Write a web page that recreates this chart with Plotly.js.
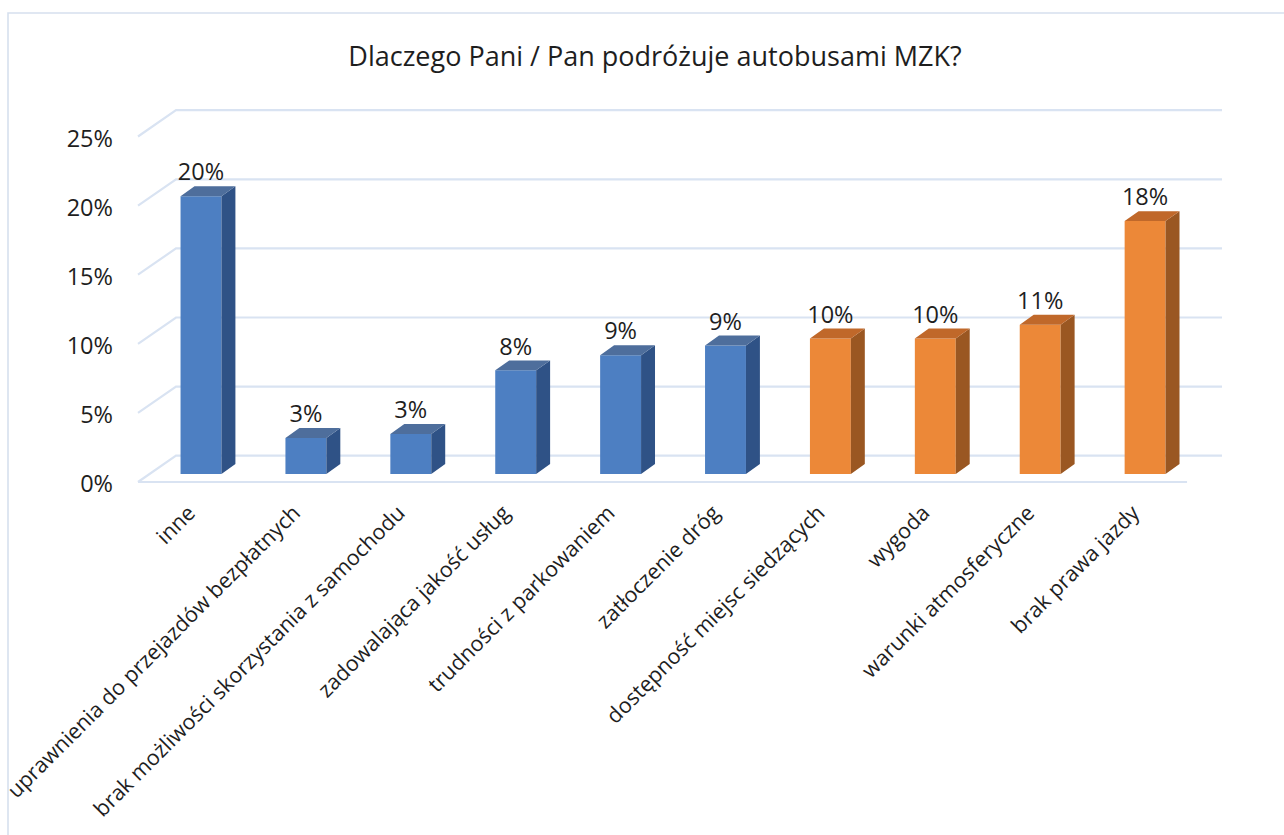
<!DOCTYPE html>
<html>
<head>
<meta charset="utf-8">
<script src="https://cdn.plot.ly/plotly-3.0.1.min.js"></script>
<style>
  html, body { margin: 0; padding: 0; background: #ffffff; }
  #chart { width: 1284px; height: 835px; }
</style>
</head>
<body>
<div id="chart"></div>
<script>
// ---- data ----
const categories = [
  'inne',
  'uprawnienia do przejazdów bezpłatnych',
  'brak możliwości skorzystania z samochodu',
  'zadowalająca jakość usług',
  'trudności z parkowaniem',
  'zatłoczenie dróg',
  'dostępność miejsc siedzących',
  'wygoda',
  'warunki atmosferyczne',
  'brak prawa jazdy'
];
const values = [20.1, 2.6, 2.9, 7.5, 8.6, 9.3, 9.8, 9.8, 10.8, 18.3];
const groups = ['A', 'A', 'A', 'A', 'A', 'A', 'B', 'B', 'B', 'B'];
const yTicks = [0, 5, 10, 15, 20, 25];
const titleText = 'Dlaczego Pani / Pan podróżuje autobusami MZK?';

// ---- style ----
const FONT = 'Open Sans, Noto Sans, sans-serif';
const TXT = '#1e1e1e';
const palette = {
  A: { front: '#4d7fc2', side: '#2f5286', top: '#4e6e9c' },
  B: { front: '#ec8838', side: '#9a5722', top: '#c0682a' }
};
const GRID = '#d9e3f2';
const W = 0.195, DX = 0.133, DY = 0.72;       // half bar width, depth offsets
const BACK_DY = 1.324, FRONT_DY = -0.579;     // wall planes relative to bar plane
const X_FRONT = -0.6006, X_BACK = -0.238, X_END = 9.733, X_FLOOR_END = 9.40;

const idx = categories.map((_, i) => i);

function facePolys(group, kind) {
  const xs = [], ys = [];
  idx.filter(i => groups[i] === group).forEach(i => {
    const v = values[i];
    let pts;
    if (kind === 'side') {
      pts = [[i + W, 0], [i + W + DX, DY], [i + W + DX, v + DY], [i + W, v]];
    } else {
      pts = [[i - W, v], [i - W + DX, v + DY], [i + W + DX, v + DY], [i + W, v]];
    }
    pts.forEach(p => { xs.push(p[0]); ys.push(p[1]); });
    xs.push(pts[0][0]); ys.push(pts[0][1]);
    xs.push(null); ys.push(null);
  });
  return { xs, ys };
}

const traces = [];
['A', 'B'].forEach(g => {
  const sel = idx.filter(i => groups[i] === g);
  traces.push({
    type: 'bar',
    x: sel,
    y: sel.map(i => values[i]),
    width: 2 * W,
    marker: { color: palette[g].front, line: { width: 0 } },
    hoverinfo: 'skip',
    showlegend: false
  });
});
['A', 'B'].forEach(g => {
  ['side', 'top'].forEach(kind => {
    const f = facePolys(g, kind);
    traces.push({
      type: 'scatter', mode: 'lines',
      x: f.xs, y: f.ys,
      fill: 'toself', fillcolor: palette[g][kind],
      line: { width: 0, color: palette[g][kind] },
      connectgaps: false,
      hoverinfo: 'skip', showlegend: false
    });
  });
});
traces.push({
  type: 'scatter', mode: 'text',
  x: idx.map(i => i),
  y: values.map(v => v + DY),
  text: values.map(v => Math.round(v) + '%'),
  textposition: 'top center',
  textfont: { family: FONT, size: 23.5, color: TXT },
  cliponaxis: false,
  hoverinfo: 'skip', showlegend: false
});

// grid (back wall + left side + floor), drawn below the bars
const shapes = [];
yTicks.forEach(t => {
  shapes.push({
    type: 'path', xref: 'x', yref: 'y', layer: 'below',
    path: `M ${X_FRONT},${t + FRONT_DY} L ${X_BACK},${t + BACK_DY} L ${X_END},${t + BACK_DY}`,
    line: { color: GRID, width: 2.2 }
  });
});
shapes.push({
  type: 'line', xref: 'x', yref: 'y', layer: 'below',
  x0: X_FRONT, x1: X_FLOOR_END, y0: FRONT_DY, y1: FRONT_DY,
  line: { color: GRID, width: 2.2 }
});
// outer chart border
shapes.push({
  type: 'rect', xref: 'paper', yref: 'paper', layer: 'above',
  x0: 8 / 1284, x1: 1.05, y0: -0.05, y1: 1 - 13 / 835,
  line: { color: '#d6e0ee', width: 1.6 }, fillcolor: 'rgba(0,0,0,0)'
});

const layout = {
  width: 1284, height: 835,
  margin: { l: 0, r: 0, t: 0, b: 0, autoexpand: false },
  paper_bgcolor: '#ffffff', plot_bgcolor: 'rgba(0,0,0,0)',
  barmode: 'overlay',
  showlegend: false,
  title: {
    text: titleText,
    x: 655 / 1284, xanchor: 'center',
    y: 1 - 57 / 835, yanchor: 'middle',
    font: { family: FONT, size: 27, color: TXT }
  },
  xaxis: {
    domain: [130 / 1284, 1230 / 1284],
    range: [(130 - 201) / 104.9, (1230 - 201) / 104.9],
    tickmode: 'array',
    tickvals: idx,
    ticktext: categories,
    tickangle: -45,
    ticks: '',
    ticklabelshift: -12,
    ticklabeloverflow: 'allow',
    showgrid: false, zeroline: false, showline: false,
    tickfont: { family: FONT, size: 21.5, color: TXT },
    automargin: false,
    fixedrange: true
  },
  yaxis: {
    domain: [(835 - 495) / 835, (835 - 100) / 835],
    range: [-21 / 13.82, 374 / 13.82],
    tickmode: 'array',
    tickvals: yTicks,
    ticktext: yTicks.map(t => t + '%'),
    ticks: '',
    ticklabelshift: 10,
    ticklabelstandoff: 16,
    showgrid: false, zeroline: false, showline: false,
    tickfont: { family: FONT, size: 23.5, color: TXT },
    automargin: false,
    fixedrange: true
  },
  shapes: shapes
};

Plotly.newPlot('chart', traces, layout, { displayModeBar: false, staticPlot: true });
</script>
</body>
</html>
